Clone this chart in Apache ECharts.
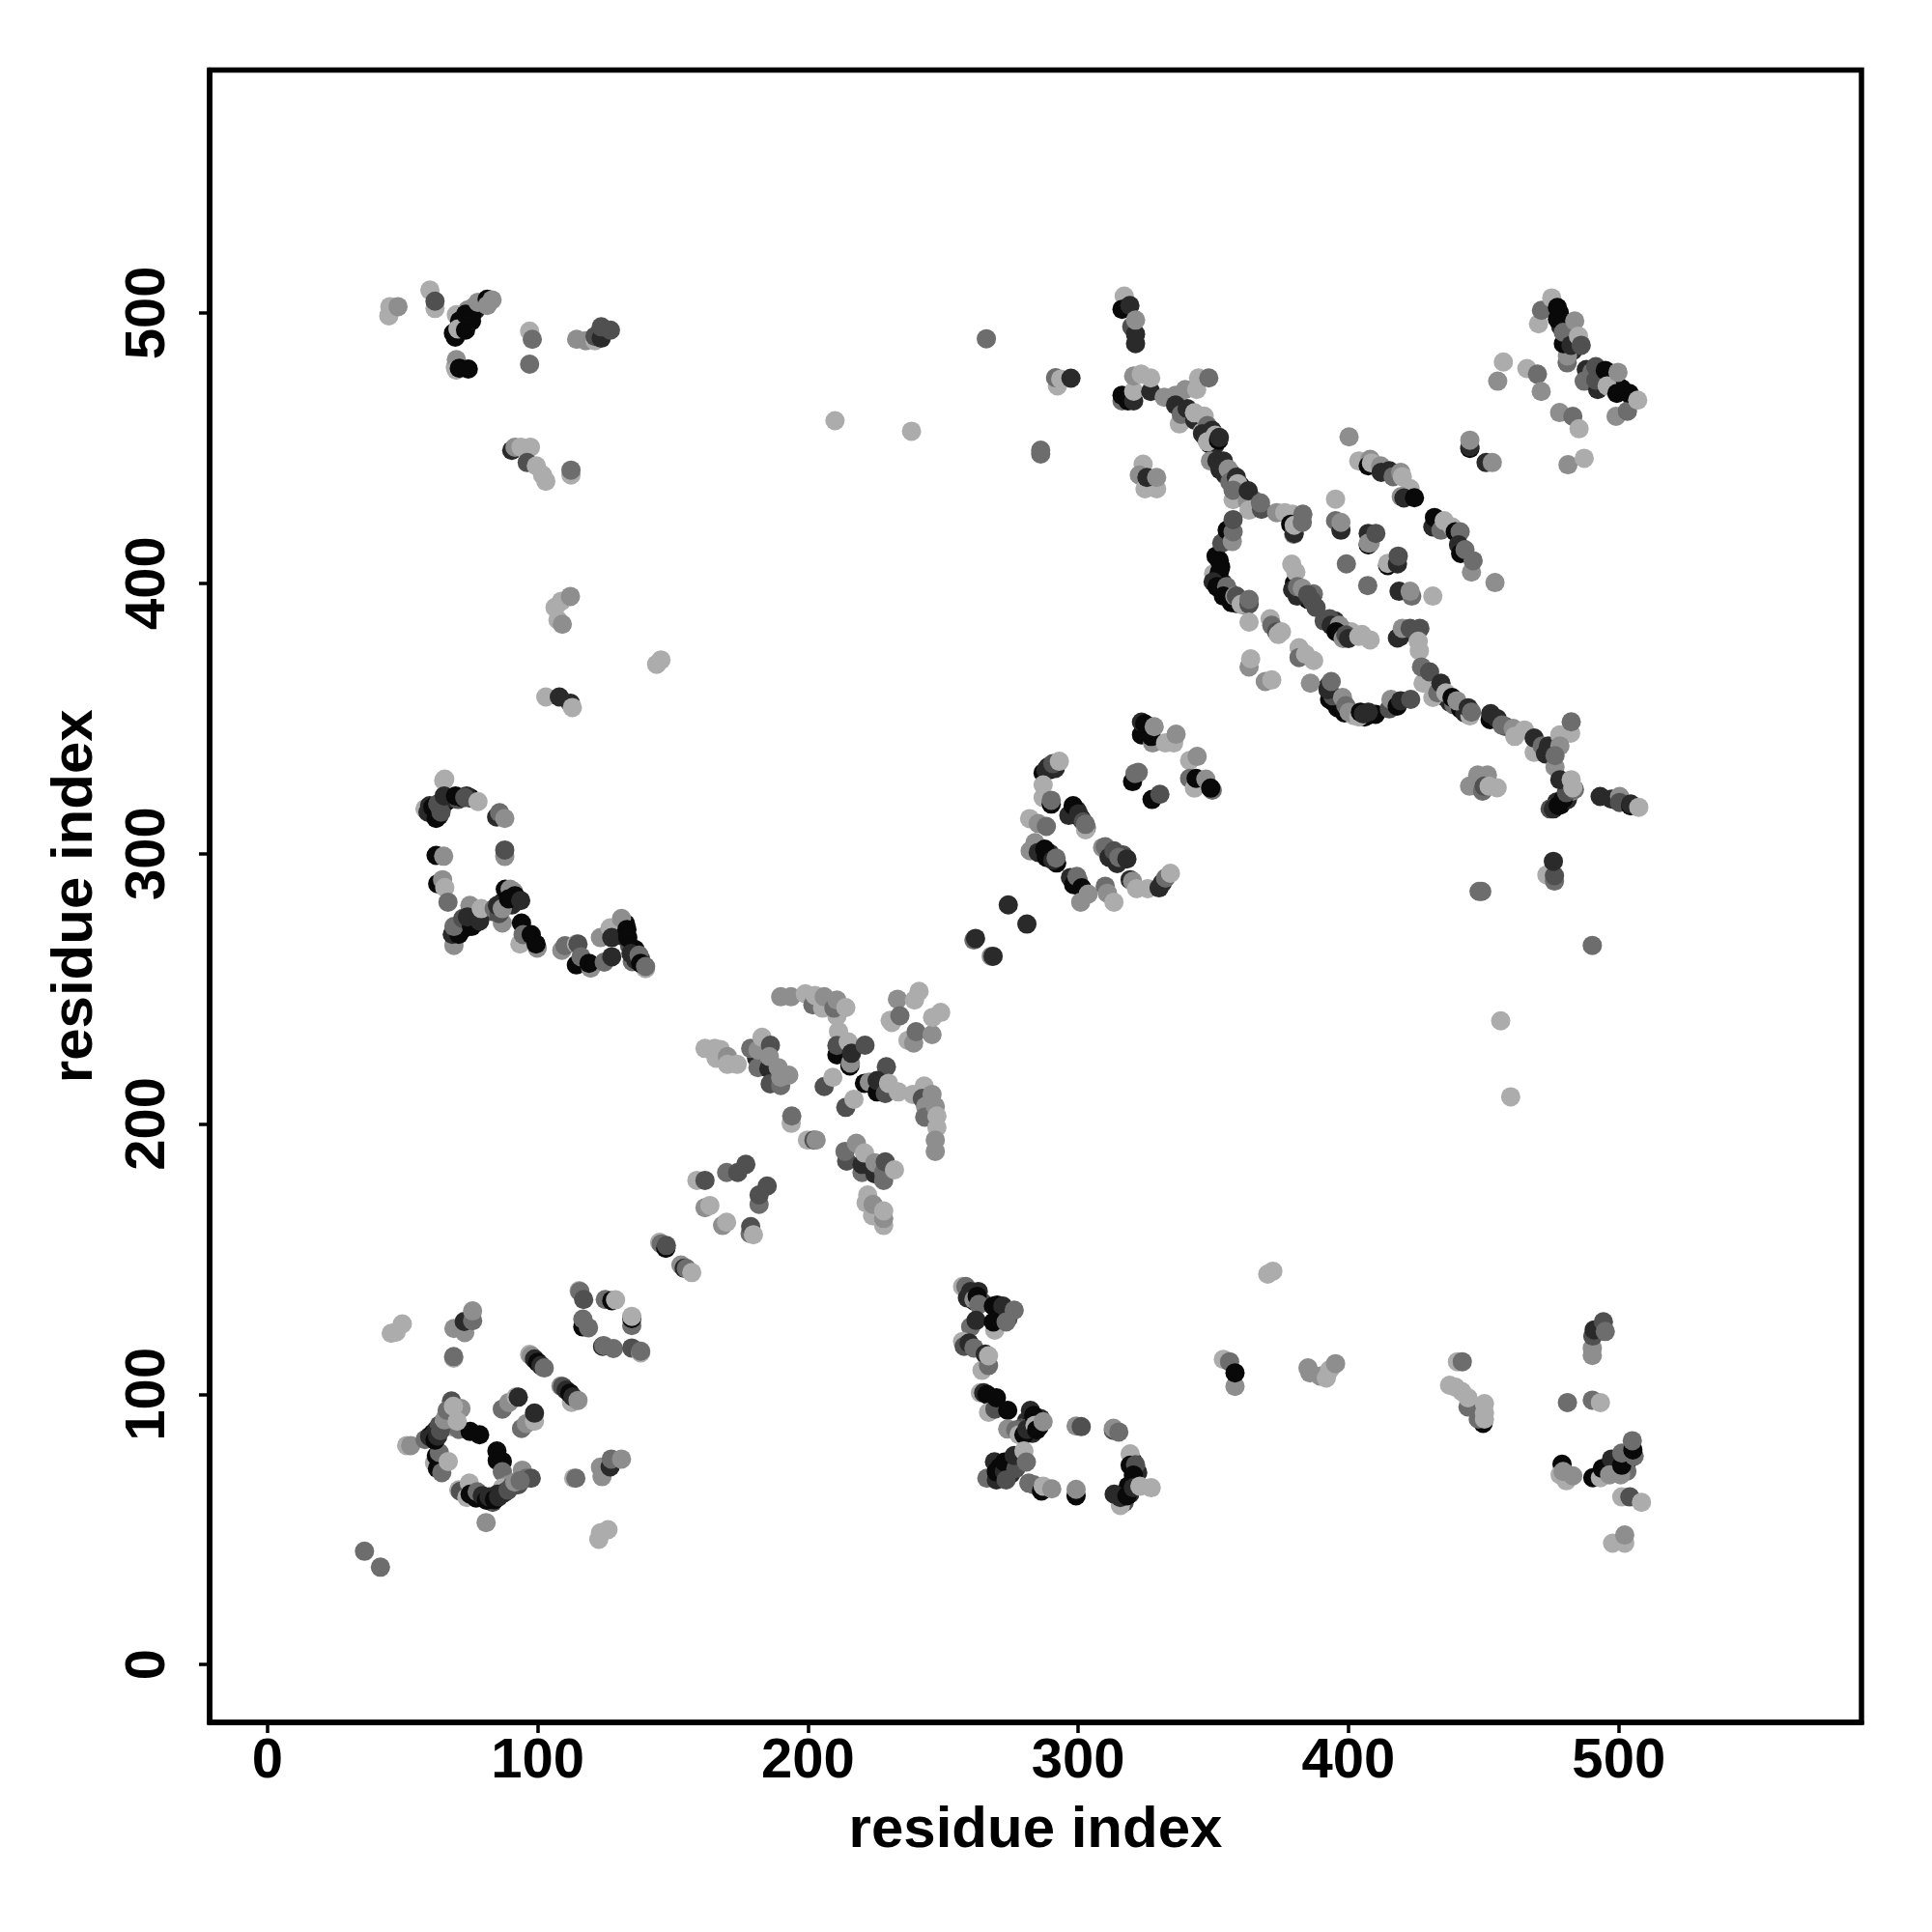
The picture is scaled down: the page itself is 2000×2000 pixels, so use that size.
<!DOCTYPE html>
<html><head><meta charset="utf-8">
<script src="https://cdn.jsdelivr.net/npm/echarts@6/dist/echarts.min.js"></script>
<style>html,body{margin:0;padding:0;background:#fff}#c{width:2000px;height:2000px}</style>
</head><body><div id="c"></div>
<script>
// every contact: [residue x, residue y, shade level 0 (black) .. 5 (light grey)]
const tickValues=[0,100,200,300,400,500];
const axisTitle='residue index';
const shadeGreys=['#090909','#2a2a2a','#505050','#6d6d6d','#8e8e8e','#acacac'];

const nTermLow=[[35.9,41.9,3],[41.8,36,3],[45.8,122.5,5],[47.6,123,5],[49.9,126,5],[68.9,113.3,5],[68.9,113.9,3],[69,124.3,4],[73,122.8,4],[72.8,126.9,1],[75.9,127.2,3],[75.9,130.8,4],
[115.3,138.3,5],[115.6,138,3],[117,135,2],[125,135,3],[127.4,134.6,0],[128.8,134.9,5],[134.8,125.4,3],[134.8,128,0],[134.8,128.8,5],[116.7,124.9,0],[116.7,127.8,3],[118.8,124.6,3],[124,117.7,1],[124.4,118,3],[128,116.9,3],[134.8,117.1,2],[138.1,115.3,5],[138.1,115.9,3],
[97,114.7,5],[97.6,114.2,4],[98.8,113,1],[100,111.8,0],[101.2,110.6,1],[102.4,109.7,3],[112.5,97,5],[108.6,103,4],[109.2,102.8,2],[110.5,101.5,1],[111.9,100.4,0],[113,99,1],[114.9,97.7,4],
[86.9,94.5,3],[89.3,96.9,4],[92,99,5],[92.8,98.9,1],[94,87.3,3],[95.8,89.1,4],[98.8,90,5],[98.8,93,1]];

const nTermRing=[[67.2,93.9,5],[68.1,97.5,2],[66,91.5,4],[71.6,94.7,4],[51.5,81,5],[53,81,4],[58.3,83.2,3],[60,84.4,1],[61.3,85.6,0],[62.5,86.8,1],[63.6,88.5,2],[65.4,89.1,5],[67.8,88,5],[70.8,87,3],[75,86.2,0],[78.5,85,0],
[61.8,74.7,5],[62.9,72.5,0],[62.5,77.2,0],[63.6,78.4,3],[64.5,71,3],[66.9,75.1,5],[84.9,79,0],[85,75.5,0],[86.9,75.1,0],[86.9,71.3,3],[94.3,71.9,4],[92.8,66.5,2],[95.8,68.9,3],[97.6,68.9,2],
[89.3,66.5,4],[86.9,65.3,5],[85.1,63,1],[83.3,60,2],[83.3,61.2,1],[70.8,64.6,5],[71.4,64.1,2],[74.7,67.1,5],[73.8,61.8,5],[75,63,0],[77.2,61.6,0],[77.6,63.9,3],[80.9,52.5,4],
[113.3,68.9,5],[114.1,68.9,3],[123.2,73,4],[123.8,69.5,4],[126.8,73.1,1],[127.2,76,3],[131,76,4],[122.6,46.3,5],[123.2,48.7,5],[126,49.9,5]];

const diagonalLow=[[145.1,156.2,5],[145.7,155.6,3],[147.4,154,0],[147.6,155,2],[153,147.8,4],[154.2,146.6,1],[155,146.5,3],[157,145,5],
[158.9,179.1,5],[161.9,179.1,2],[169.9,182,3],[174,182,2],[177,185,2],[181.9,170.2,3],[181.9,173.7,2],[184.9,177,2],[161.9,169,4],[163.7,169.8,5],[168.4,162.4,4],[169.9,163.6,5],[178.6,159.4,3],[178.8,162,2],[179.8,159,5]];

const centralLeft=[[161.9,227.9,5],[165.5,227.9,5],[167.6,227.5,5],[166,224.3,5],[170.2,224.9,4],[170.2,222,5],[173.8,222,5],[181,224.3,1],[181.5,220.8,3],[178.8,227.9,3],[181.5,227.3,4],[183,232,5],[186.1,229.1,2],[185.5,220.4,1],[185.7,224.9,4],[186,214.8,2],[189.9,214.2,3],[189,220.8,4],[192.9,218,4],[189.9,217.2,4],[193.8,200.2,5],[194,202.9,3],[199.8,194,5],[202.2,194,2],[203,194,4]];

const centralTop=[[189.9,247,4],[193.7,247,4],[199,248.1,5],[201.8,244,3],[202.6,247.5,5],[205.4,242.8,5],[206,247,4],[210.7,239.8,5],[209.6,242.8,3],[210.7,245.8,4],[214,243,5],[211.3,234.2,5],[210.7,225.5,0],[210.7,229,2],[214.9,230.3,5],[215.5,221.4,0],[215.7,222.5,4],[216.1,226.1,1],[221.1,229.1,2],[206,213.8,2],[209.2,217.2,5],[214,206.1,2],[217,209.1,5],
[229,221.1,2],[220.9,215,0],[222.7,215.4,4],[225.6,211.8,0],[225.6,216,1],[228.6,211.2,2],[229.8,215,5],[233.4,211.8,5],[238.8,210.9,5],[243,214,5],[242.3,209.4,2],[245.9,210.9,4],[243.5,206.5,4],[243.2,202.5,3],[247.1,206.5,4],[247.7,202.9,5],[247.7,198.7,5],[247.1,194,4],[247.1,189.8,4],
[233.1,246.1,4],[239.4,245.8,5],[241.1,249,5],[230.4,238.3,5],[231,237.5,5],[234,240,3],[237,230.9,5],[239.1,229.9,4],[240,234.1,3],[245.9,233,4],[246.1,239.4,5],[249.1,241.2,5]];

const centralLow=[[214.3,186.2,2],[213.7,189.8,3],[217.9,192.8,4],[220,182,3],[220,185,1],[220.9,189.2,5],[224.8,181.5,1],[224.8,185.6,4],[228,179.1,3],[228,182,3],[228.6,185.9,2],[232,183,5],[222.1,173.7,5],[221.5,170.8,5],[223.9,166,5],[224.1,170.2,4],[228,162.4,5],[228,165,4],[228,167.8,5]];

const midRightLow=[[257.2,139.8,5],[258.4,139.8,3],[259,135.6,1],[260.2,138,1],[261.4,135,4],[262.6,136.2,0],[263.2,133.2,3],[268.6,132.6,0],[272.1,132.6,1],[276.3,131.1,3],[260.2,124.9,3],[262.2,127.3,1],[269.1,123.7,5],[268.6,126.7,0],[273.3,126.7,3],
[257.2,119.5,5],[257.8,117.7,2],[259.6,118.9,1],[261.4,117.1,3],[264.4,108.8,5],[265.6,114.8,1],[266.8,110.6,3],[266.8,114.2,5],[263.8,100.5,5],[265,100.5,1],[266.2,99.9,0],[266.8,93.3,5],[269.2,94.5,2],[269.7,98.7,0],[273.9,94,0],
[273.9,87.1,4],[276.9,86.8,3],[278.1,85,5],[279.9,85,0],[281,87,1],[282.3,94,1],[283.5,92.1,0],[284,88.5,5],[284.6,86.8,0],[287,89.8,4],
[266.2,68.9,3],[269.7,68.3,1],[269.7,71.3,0],[272.7,71.3,1],[272.7,74.9,0],[273.3,68.3,2],[276.9,72.5,2],[276.3,77.3,1],[279.9,79,5],[280.8,74.9,3],[281.7,67.1,3],[283.5,66.5,3],[286.4,64.2,0],[287,66,5],[290.2,65,4],[299.2,62.4,0],[299.2,64.8,4],[299.2,88.2,4],[301.1,88,2],[313,86.6,2],[313,87.4,4],[315,86,3],
[319.2,77.9,5],[319.2,73.7,0],[321.2,73.9,2],[320.4,70.1,0],[315.6,58.8,5],[313.3,63,1],[315.6,61.8,1],[318,62.4,0],[320.4,65.4,1],[322.8,66,5],[327,65.4,5]];

const midLeftHigh=[[65.2,327,5],[65.6,327.5,5],[58.3,316.5,5],[59.4,315.3,1],[60,317.7,1],[61.2,317.1,0],[62.4,313,0],[63,318.3,2],[64.2,315.3,2],[65.4,321.3,1],[69.6,321.3,0],[72,320.7,0],[73.7,321.3,1],[73,320.7,2],[77.9,319.2,5],[84.8,313.5,1],[85.9,315.1,3],[87.8,313,4],
[87.8,298.9,4],[87.8,301.3,2],[62.4,299.3,0],[65.2,299,4],[63,288.8,0],[64.8,290.3,4],[65.6,287.4,5],[66.8,282,3],[69,266,4],[68.4,270.1,1],[70.8,270.1,0],[69,273,3],[74.9,280.8,4],[72.3,276,2],[75.5,273,0],[74,276.5,1],[77.9,276.7,1],[78.5,275,1],[79.1,279.6,5],
[86.9,274.3,4],[83.9,279.6,3],[85.7,277.8,2],[85.1,280.8,1],[88,286.8,0],[89.8,286.8,4],[86.9,279.6,4],[89.2,283.2,0],[91.6,284.4,0],[93.7,282.6,1],
[94,274.3,0],[93.4,266.5,5],[94.6,270,3],[97.6,270,0],[99.8,265,4],[99.4,266.5,0],[108.9,264.2,4],[110.1,265.9,3],[114.3,258.8,0],[114.3,266.5,5],[114.9,266.5,2],[116,261.8,3],[119.6,257.6,4],[119,259.4,0],[124.6,259.8,3],[127.4,261.8,1],
[123.2,268.9,4],[126.8,272.5,5],[131,276,4],[127.4,268.9,1],[133,271.9,0],[133.3,268.9,0],[134.5,263,1],[136.3,260.6,1],[137.5,262.4,3],[139.9,257.4,5],[138.1,259.4,0],[139.9,258.2,3]];

const midCentreHigh=[[274.1,281,1],[281,273.9,1],[261.4,268,3],[262,268.6,1],[267.8,262,4],[268.5,262,1],
[287,329.8,0],[288,330.8,1],[288.8,332,1],[290.6,333.2,2],[293,334.1,5],[287,325.4,5],[287,320.7,5],[290,318.3,0],[290,319.7,3],[282,312.9,5],[285.2,311.1,4],[288.2,310,3],
[282.2,301,4],[284,304,4],[285.2,300.4,1],[287.6,301.6,0],[288.2,298.6,0],[290.6,297.5,1],[291.8,298.3,3],[297.1,291.1,1],[298.3,288.5,0],[299.5,291.5,3],[301.3,287.3,0],[300.9,282,4],[303.7,285,4],
[296.5,314.1,1],[298.1,317.7,0],[300.1,314.7,1],[301.9,311.7,2],[302.7,308.8,5],[302.7,310.8,3],[310,287.9,3],[310.8,285.3,4],[313.2,282,5],
[309,302.2,4],[310,302.5,3],[311.4,298.6,1],[313.2,301,2],[314.4,296.3,1],[315,298.6,3],[318,298,1],[319.2,290.3,1],[320.1,289.7,4],[321.6,287,5],[325.7,287,5],[329.9,287.3,1],[331.1,289.1,1],[332.3,290.9,3],[334.1,292.7,5],
[320.1,326.6,0],[321,329.6,3],[322.2,330,3],[327.3,320,0],[330.2,321.9,2],
[323.4,343.9,0],[323.4,348.6,1],[324.6,348,0],[327.5,340.9,4],[327,343.3,0],[328.1,346.9,4],[332.3,340.9,5],[335.3,340.9,5],[336.2,344.1,4],[341.2,334.4,5],[344,335.9,4],[341.2,327.8,3],[343,324.2,5],[343.6,327.8,0],[347.2,327.5,4],[349.6,323.4,3],[349,324.2,0]];

const farRightMid=[[353.7,112.9,5],[356,112,3],[358,102.9,4],[358,107.9,0],[370.1,144.4,5],[372,145.5,5],[385,109.7,4],[385.7,107.9,4],[389.5,106.7,4],[391.8,106,5],[393,109,5],[395.2,111.3,4],
[440.3,112,5],[442.1,112,3],[437.4,103.3,5],[439.6,102.6,5],[441.9,101,5],[444.2,95.3,3],[444.2,98.7,5],[449.8,89.2,0],[448,90.8,3],[450.3,90.8,5],[450.3,93,5],[450.3,96.5,5],
[456.3,238.1,5],[460,210,5],[490.2,114.3,4],[490.2,117,4],[490.4,121.5,2],[490.9,123.8,1],[494.3,126.8,2],[495,123.2,3],[481,96.9,3],[490.2,97.8,3],[493.2,96.9,5],
[479,74.1,0],[478.3,70.2,5],[480.6,68,5],[479.4,71.4,4],[483,69.8,4],[490.4,69.1,0],[493.2,69.1,5],[493.9,72.5,0],[497.3,76,1],[496.6,70.2,4],[500.7,70.2,4],[501.1,73.7,0],[501.1,78.2,3],[505.7,77.1,3],[505.2,79.4,0],[505,82.8,3],[501.1,62,5],[504.1,62,2],[508.4,60,5],[497.7,44.9,5],[502.2,44.9,5],[502.2,47.9,4]];

const farLeftHigh=[[44.9,498.9,5],[45.3,502.3,5],[48.3,502.3,4],[60.1,508.4,5],[62,501.6,5],[62,504.3,2],[69.9,499.3,5],[68.8,492.5,0],[71.1,497,0],[70.5,494,5],[73.3,493.6,0],[73.3,499.5,0],[75.6,499.3,0],[77.9,503.9,4],[81.3,505,0],[81.3,502.7,4],[83.1,504.8,4],
[69.5,479.9,5],[69.9,482.7,4],[69.9,478.8,5],[71,479.5,0],[74.3,479.2,0],[97,493.2,5],[98,490.2,3],[97,481,3],[114.4,490.2,4],[117.8,489.7,4],[121.2,489.7,5],[121.2,491.3,2],[123.5,490.6,1],[123.5,494.8,2],[126.9,493.6,2],
[90.4,449.1,1],[91.6,450.3,4],[93.8,450.3,5],[97.3,450.3,5],[96.1,444.6,2],[99.5,443.4,5],[101.8,440,5],[103,437.7,5],[112.3,440,5],[112.3,441.8,3],
[106.4,391,5],[108.7,393.3,5],[112.1,395.1,4],[107.5,386.4,5],[109.1,384.8,4],[144,370,5],[145.6,371.6,5],[103,357.9,5],[108,357.9,1],[112.1,355.6,1],[112.8,354,5],[210,460.1,5],[238.3,456.2,5]];

const upperStem=[[266,490.4,3],[286.1,447.8,3],[286.1,449.2,3],[292.3,473,5],[291.6,476,3],[293.5,475.5,5],[297.3,475.8,1],
[317,506.2,5],[316.2,501.3,0],[319.1,502.7,1],[319.8,494.9,2],[321.2,488.6,1],[321.2,492.1,1],[321.2,497.3,4],
[316.2,467.4,3],[316.2,469.5,0],[318.4,467.4,0],[320.5,467.4,1],[320.5,471,5],[320.5,476.6,4],[323.3,477.3,5],[326.8,470.9,1],[326.8,475.9,5],
[331.8,468.8,4],[336,469.5,4],[339.6,471.6,4],[343.8,471.6,5],[344.5,475.9,5],[348.3,475.9,3],[336,465.9,1],[337.4,458.9,5],[338.1,462.4,3],[340.3,464.6,1],[343.1,460.3,1],[345.9,456,5],
[324,444,5],[322.6,440,4],[324.7,434.9,5],[329,434.9,5],[325.4,439.1,1],[329,439.1,4]];

const longArm=[[343,463,5],[346.6,461.8,5],[347.8,458.3,3],[346,455.3,1],[349.5,456.5,1],[347.8,452.3,5],[350.7,454.7,5],[351.9,452.9,0],[352.2,453.9,1],
[348.9,445.2,4],[351.3,445.2,1],[353.7,445.2,1],[352.5,442.2,1],[355.5,442.2,4],[357.3,430.9,5],[356.1,437.4,3],[358.5,439.2,1],[359,436.8,5],[357.3,434.4,3],[362.6,430.3,4],[362.9,434.2,1],[363.2,427,5],[367.8,427.3,2],[367.4,429.7,3],
[373.4,426.1,4],[376.4,426.1,5],[379.3,425.5,5],[378.6,421.8,0],[379.7,418,4],[379.9,418.4,1],[379.9,421.4,5],[382.9,422.5,3],[383.1,425.5,3],
[353.1,414.8,2],[355.1,419.6,0],[357,415.4,4],[357.3,419,3],[357.3,423.5,2],
[350.1,403.5,5],[352.2,404.1,0],[352.2,408.3,0],[349.9,400.5,1],[351.3,398.7,0],[354.9,398.7,3],[353.7,395.2,0],[356.7,392.8,0],[357.9,395.2,4],[358.5,395.2,2],[360.3,392.2,5],[363.2,392.2,2],[363.2,394,3],
[363.2,385.6,5],[371,386.8,5],[371.6,384.4,3],[373.4,382,2],[374,381,5],[375.2,382,5],[363.2,369,4],[363.8,372,5],[369.2,363.6,4],[371.6,364.2,5],
[381.7,376.1,5],[381.7,372.5,3],[384.1,373.7,5],[387.1,371.4,5],[385.9,363,4],[393,357,0],[396,353.9,0],[394.2,358.3,2],[392.4,360.6,1],[393.6,363.6,3],[397.8,357.7,4],[399,354.7,3],[400.2,352.3,4],[403.8,350.5,5],[404.4,352.3,0],[405.5,351.6,1],[407.3,352.3,1],
[415.1,353.5,2],[415.7,357,4],[418,354.5,0],[419.3,356.5,1],[423,357,2]];

const innerArc=[[379,407,5],[380.5,404.1,5],[379.3,397.6,1],[381,395.2,1],[381.1,398.7,3],[382.9,398.1,4],[384.9,395.8,2],[386.5,393.4,2],
[393,386.8,2],[393.6,384.4,1],[396.6,384.4,4],[395.4,382,0],[398,379.5,4],[399,380.9,2],[400,379.5,1],[403.8,380.3,5],[408,379,5],
[395.2,431.1,5],[395.2,423.1,3],[397.2,419.6,1],[397.2,422.5,4],[407.3,414.2,0],[407.3,418.4,1],[407.3,414.8,4],[408,414.8,4],[410.1,418.4,2],[399.2,407.1,3],[414.5,406.5,0],[414.5,407.3,5],[418.1,407.1,1],[418.4,410,2],[407.1,399.1,3],[418.7,397,1],[423.4,395.2,3],[422.8,397,4],[431.2,395.2,5]];

const upperArc=[[400.2,454.1,4],[403.8,445.2,5],[408,445.8,4],[407.3,443.4,0],[408.5,444.5,5],[411.9,443.4,4],[412.1,441,1],[415.1,441.6,1],[416.5,439.4,3],[419.3,441,4],[419.9,439.4,5],[422.8,435,5],[419.5,432,4],[420.5,431.5,1],[424.4,431.6,0],
[444.9,449.8,0],[444.9,450.5,1],[444.9,452.9,4],[450.9,444.6,1],[453.2,444.6,4],
[431.2,420.8,1],[431.8,424.3,0],[434.2,419.6,3],[435.4,423.1,5],[438.3,420.8,5],[439.5,419,0],[441.3,419,3],[440.7,414.2,1],[441.5,411,0],[443.1,412.4,3],[445.5,404.1,4],[446.1,408.3,3],[454.2,400.2,4]];

const lowerArm=[[418.1,379.7,1],[419,380.2,1],[419.9,383.3,4],[422.8,383.3,2],[426.4,383.3,2],[425.8,378.5,5],[426.2,375,5],[427.6,363,5],[427,369,3],[430,367.2,2],[431.2,357.7,5],[433,359.4,3],[434.2,363,1],[436,359.4,5],[438.3,357.7,0],[440.1,356.5,4],[444.9,350.9,5],[444.3,353.9,1],[445.5,352.3,3],
[452.4,349.5,0],[452.6,351.7,1],[455,349.9,1],[456.8,347.5,3],[460.9,346.3,4],[461.5,343.3,5],[465.1,345.7,5],[468.7,337.4,5],[468.7,342.7,1],[471.7,339.8,3],[472.9,336.8,1],[474,339.8,1],
[482.2,344.5,5],[478.2,343.9,5],[482.4,348.7,3],[478.2,339.8,4],[476.4,332,4],[476.4,336.2,3],
[474.6,316.5,2],[475.8,316.5,1],[477.6,317.7,0],[479.4,320.1,0],[480.6,322.5,2],[483.6,323.7,3],[478.2,327.3,1],[482.4,327.3,5],[483,324.3,5],
[493.1,321.1,1],[497.3,320.1,1],[500.3,321.1,4],[500.3,318.9,2],[504.4,317.6,0],[504.4,318.3,1],[507.4,317.1,5],
[447.8,329,4],[451.4,329,4],[444.8,324.9,4],[449.6,323.1,3],[450.2,324.9,2],[452,324.9,5],[455,324.3,5],
[473.4,292.1,5],[476.2,289.8,3],[476.2,291.8,2],[475.8,297.1,1],[448.3,286,3],[449.3,286,3],[490.2,266,3]];

const upperRight=[[470.3,495.9,5],[471.4,500.9,3],[475.2,505.5,5],[477.3,502,0],[477.3,497.7,0],[480.9,481.5,3],[481,484,4],[479.5,488.6,0],[479.5,492.8,3],[482.3,488,1],[483.7,497,4],[485.1,491.4,5],[486.1,488,2],
[457.3,481.8,5],[455.2,474.7,4],[466,479.4,5],[469.9,477.3,3],[471.3,470.9,4],[478.1,463.1,4],[483,461.7,3],[485.3,457.1,5],[481.2,443.8,4],[487.2,446.2,5],[499,461.7,4],[503.2,463.6,3],
[487.2,474.7,3],[492.2,471.6,1],[491.5,480.1,2],[491.5,475.1,2],[495,478.7,0],[495.7,473,5],[499.3,470.2,0],[499.7,478,4],[503.9,470.2,0],[507,467.7,5]];

const denseBands=[[60.5,84,1],[62,83,0],[63,84.5,1],[64,86.5,2],[65.5,90.5,4],[66.5,94,3],[68.8,95.5,5],[70.2,90,5],
[79.5,62.5,1],[81,60.8,0],[82,62,1],[84,61,0],[85.5,62,1],[87.5,63.5,1],[89,64.5,2],[90.5,66,2],[91.5,67.5,4],[93.5,68,3],
[75.5,497,0],[77,501,1],[79,503,0],[72,495.5,1],[74,501,4],[69.5,491,0],[76,502,4],
[60.8,314.8,1],[62,315,0],[63.5,314,1],[64.5,317,2],[66.7,319.6,0],[68,320.5,1],[70.5,320,2],[75,320.6,0],
[71,271.5,1],[73,272.5,0],[71.8,274,2],[74.5,275,1],[76.5,274,0],[83.5,278.5,2],[87,282,1],[88.5,281,3],[90.5,281,1],[91,286,4],
[131.5,269.5,1],[132.5,274,0],[134,266,2],[136,264.5,0],[135,260,3],[138,261,1],
[260.5,136.5,2],[261.5,134.5,0],[263,138,1],[264.5,134,2],[270,133,0],[274,128,2],[271,130,1],
[280.8,90,1],[282,88.5,0],[279,87.5,2],[283,85.5,1],[285.5,88,0],[286,91,1],
[269,75,1],[271,73,0],[274,74,1],[275,70.5,1],[278,75.5,0],
[316.5,62,0],[317,60,2],[319,63,1],[318.5,66,0],[321,68,1],[320,75.5,0],[322,71,1],
[299.5,316,1],[301,313,0],[303,309.5,3],[289.5,331,0],[291.5,331.5,1],[289.5,300,1],[292,296.5,0],[299,289,1],[300,290,3],[316.5,299.5,2],[312.5,299.5,0],
[347,454,1],[348.5,451.5,0],[350.5,451,1],[349,453,2],[352.5,442,0],[354.5,440,1],[356.5,440.5,0],[358,437.5,2],[360,436,0],[361.5,432,1],[364.5,431,3],
[351,410,0],[352.7,406,0],[351.5,402,0],[353.5,400,1],[356,396.5,0],[358.5,392.5,1],[361,392,3],
[392.5,362,1],[394.5,356,0],[397,355.5,1],[398.5,352,0],[400.5,352.5,3],[402,351,5],[406,350.5,0],[408,351.5,0],[410,351.5,0],
[391,386,2],[395,386,1],[397,381,2],[398.5,382.5,3],[401,382,5],[405,381,5],
[380,400,0],[383,396,1],[385,394,0],[387,396,3],[388,391,2],
[432.5,361,0],[435.5,358,1],[437.5,356,1],[439,355,3],[441.5,353.5,0],[443,352,1],[454,350,1],[458,347,2],
[477,319,1],[478.5,318,0],[481,320,1],[482.5,323,4],[480.5,326,3],
[478,500,0],[478.5,495,1],[481,491,0],[483,486,1],[488,479,1],[490,478,3],[493.5,476,0],[497,473,1],[498.5,476,5],[501,472,0],[505,468.5,1],
[495,72,1],[498.5,73,0],[499,76,1],[503,75,0],[503,71.5,3]];

const contacts=[].concat(nTermLow,nTermRing,denseBands,diagonalLow,centralLeft,centralTop,centralLow,midRightLow,midLeftHigh,midCentreHigh,farRightMid,farLeftHigh,upperStem,longArm,innerArc,upperArc,lowerArm,upperRight);

const chart=echarts.init(document.getElementById('c'),null,{renderer:'canvas'});
const font='"Liberation Sans"';
function axis(extra){
  return Object.assign({
    type:'value',min:-21.4,max:589.8,
    name:axisTitle,nameLocation:'middle',
    nameTextStyle:{fontFamily:font,fontWeight:'bold',fontSize:60,color:'#000'},
    splitLine:{show:false},
    axisLine:{show:true,onZero:false,lineStyle:{color:'#000',width:5.5}},
    axisTick:{show:true,inside:false,customValues:tickValues,length:11,lineStyle:{color:'#000',width:3.5}},
    axisLabel:{show:true,customValues:tickValues,fontFamily:font,fontWeight:'bold',fontSize:58,color:'#000'}
  },extra);
}
const xa=axis({nameGap:82});
xa.axisLabel.margin=12;
const ya=axis({nameGap:109});
ya.axisLabel.rotate=90;
ya.axisLabel.margin=34;
chart.setOption({
  animation:false,
  backgroundColor:'#fff',
  grid:{show:true,left:217,right:73,top:72.5,bottom:217,borderColor:'#000',borderWidth:5.5,backgroundColor:'#fff'},
  xAxis:xa,
  yAxis:ya,
  series:[{
    type:'scatter',
    data:contacts,
    symbol:'circle',
    symbolSize:20,
    large:false,
    silent:true,
    encode:{x:0,y:1},
    itemStyle:{opacity:1,color:p=>shadeGreys[p.value[2]]}
  }]
});
</script></body></html>
